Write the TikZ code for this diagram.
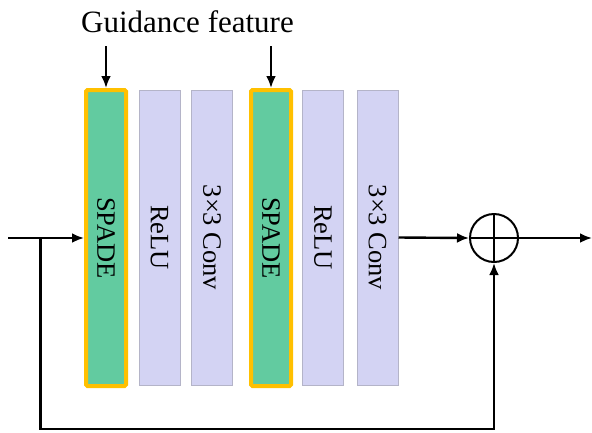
\documentclass[tikz,border=0pt]{standalone}
\usepackage{fontspec}
\setmainfont{Liberation Serif}
\usetikzlibrary{arrows.meta,calc}

\definecolor{spadegreen}{HTML}{62CBA0}
\definecolor{spadeedge}{HTML}{FFC000}
\definecolor{layerfill}{HTML}{D3D3F3}
\definecolor{layeredge}{HTML}{B4B4C8}

\tikzset{
  spadebox/.style={draw=spadeedge, fill=spadegreen, line width=4pt,
    rounded corners=1.5pt, minimum width=40pt, minimum height=296pt,
    inner sep=0pt, font=\fontsize{26.5}{27}\selectfont},
  layerbox/.style={draw=layeredge, fill=layerfill, line width=1pt,
    minimum width=41pt, minimum height=295pt, inner sep=0pt,
    font=\fontsize{26.5}{27}\selectfont},
  flow/.style={line width=2.4pt, -{Latex[length=12pt,width=10pt]}},
  sumnode/.style={draw, circle, line width=2pt, minimum size=48pt, inner sep=0pt}
}

\begin{document}
\begin{tikzpicture}[x=1pt, y=-1pt]
  \useasboundingbox (0,0) rectangle (592,432);

  % residual block layers
  \node[spadebox] (s1) at (106,238) {\rotatebox{-90}{SPADE}};
  \node[layerbox] (r1) at (159.5,237.5) {\rotatebox{-90}{ReLU}};
  \node[layerbox] (c1) at (212,237.5) {\rotatebox{-90}{3×3 Conv}};
  \node[spadebox] (s2) at (271,238) {\rotatebox{-90}{SPADE}};
  \node[layerbox] (r2) at (323,237.5) {\rotatebox{-90}{ReLU}};
  \node[layerbox] (c2) at (377.5,237.5) {\rotatebox{-90}{3×3 Conv}};

  % guidance input
  \node[anchor=base, font=\fontsize{31}{31}\selectfont, inner sep=0pt] (g) at (187.5,32) {Guidance feature};
  \coordinate (g1) at (106,46);
  \coordinate (g2) at (271,46);
  \draw[flow] (g1) -- (s1.north);
  \draw[flow] (g2) -- (s2.north);

  % element-wise sum
  \node[sumnode] (sum) at (494,238) {};
  \draw[line width=1.6pt] (sum.north) -- (sum.south) (sum.west) -- (sum.east);

  % main path
  \coordinate (in) at (8,238);
  \coordinate (br) at (40.5,238);
  \coordinate (out) at (592,238);
  \coordinate (low) at (40.5,429);
  \draw[flow] (in) -- (s1.west);
  \draw[flow] (c2.east) -- (sum.west);
  \draw[flow] (sum.east) -- (out);

  % skip connection
  \draw[flow, line join=miter] (br) -- (low) -| (sum.south);
\end{tikzpicture}
\end{document}
